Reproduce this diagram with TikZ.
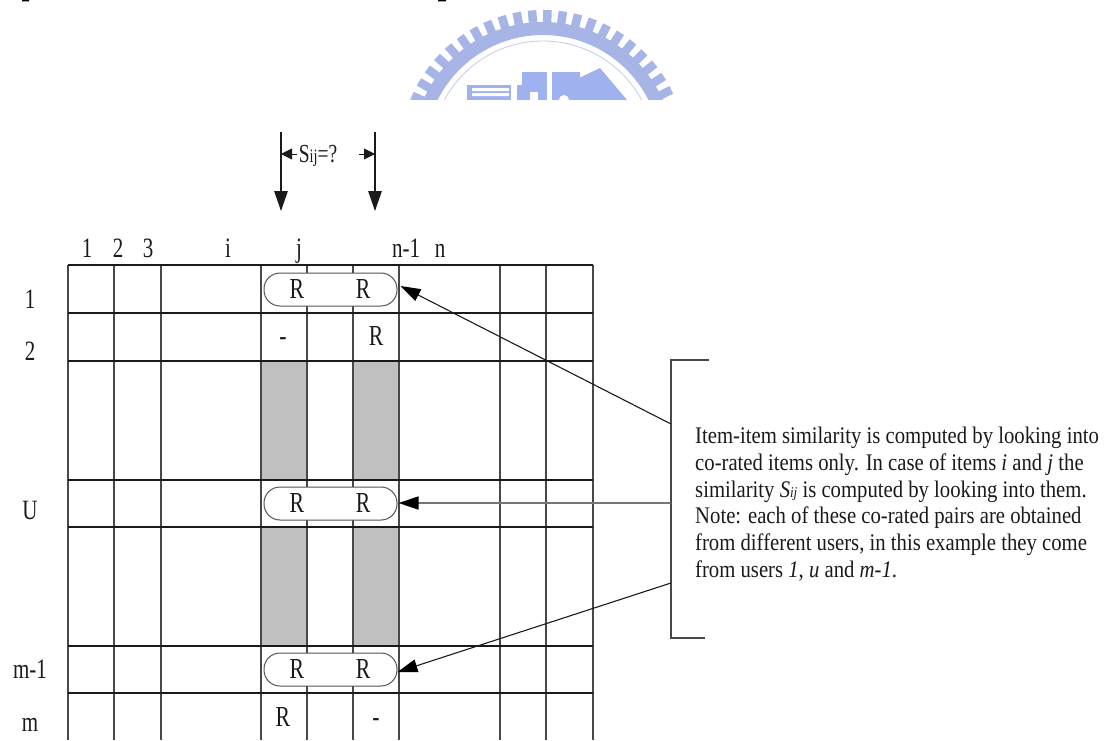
\documentclass[tikz,border=0pt]{standalone}
\usepackage{fontspec}
\setmainfont{Liberation Serif}
\newfontfamily\tallfont[FakeStretch=0.75]{Liberation Serif}
\newfontfamily\notefont[FakeStretch=0.87]{Liberation Serif}
\usetikzlibrary{arrows.meta}
\definecolor{logoblue}{HTML}{A6B4E6}
\definecolor{buildblue}{HTML}{9FB1EE}
\definecolor{cellgray}{HTML}{C0C0C0}
\definecolor{inkc}{HTML}{1A1A1A}
\tikzset{
 vline/.style={draw=inkc!80,line width=1.5pt},
 hline/.style={draw=inkc,line width=1.2pt},
 axislabel/.style={font=\tallfont\fontsize{28}{28}\selectfont,anchor=base,inner sep=0pt,text=inkc},
 celltext/.style={font=\tallfont\fontsize{29}{29}\selectfont,anchor=base,inner sep=0pt,text=inkc},
 pill/.style={draw=inkc!75,fill=white,line width=1pt,rounded corners=16pt,minimum width=133pt,minimum height=33pt,anchor=center,inner sep=0pt},
 bigarrow/.style={draw=inkc,line width=1.1pt,-{Triangle[length=20pt,width=13.5pt]}},
 midarrow/.style={draw=inkc,line width=1.1pt,-{Triangle[length=20pt,width=13pt,color=black]}},
 smallarrow/.style={draw=inkc,line width=0.9pt,-{Triangle[length=11pt,width=11pt]}},
 notetext/.style={font=\notefont\fontsize{23.8}{23.8}\selectfont,anchor=base west,inner sep=0pt,text=inkc},
}
\begin{document}
\begin{tikzpicture}[x=1pt,y=-1pt]
\useasboundingbox (0,0) rectangle (1106,740);
% cropped line of text above the logo
\fill[black] (22,0) rectangle (29,1.4) (438,0) rectangle (446,1.4);
% logo
\begin{scope}
\clip (400,0) rectangle (700,99);
\fill[logoblue,even odd rule] (543,153) circle (131) (543,153) circle (118);
\foreach \a in {20,26.2,...,161}{
  \draw[logoblue,line width=8.5pt] (543,153)++(-\a:125) -- ++(-\a:18);
}
\draw[logoblue!70,line width=0.8pt] (543,153) circle (112);
\fill[buildblue] (467,85) rectangle (511,100);
\fill[white] (472,88) rectangle (509,91) (472,93) rectangle (509,96);
\fill[buildblue] (517,85) rectangle (522,100);
\fill[buildblue] (522,72) rectangle (547,100);
\fill[buildblue] (552,72) rectangle (580,100);
\fill[buildblue] (575,100) -- (575,80) -- (600,68) -- (627,100) -- cycle;
\fill[white] (564,100) circle (5);
\fill[white] (530,92) rectangle (538,100);
\end{scope}
% gray cells
\fill[cellgray] (261,361) rectangle (307,480) (353,361) rectangle (399,480)
  (261,527) rectangle (307,646) (353,527) rectangle (399,646);
% grid
\foreach \x in {68,114,161,261,307,353,399,500,546,593}
  \draw[vline] (\x,265) -- (\x,740);
\foreach \y in {265,313,361,480,527,646,693}
  \draw[hline] (68,\y) -- (593,\y);
% pills
\node[pill] (p1) at (330.5,289.5) {};
\node[pill] (p2) at (330.5,503.5) {};
\node[pill] (p3) at (330.5,669.5) {};
% cell text
\foreach \n/\x/\y/\t in {a/297/298/R,b/363/298/R,c/376/345/R,e/297/512/R,f/363/512/R,g/297/678/R,h/363/678/R,k/283/726/R}
  \node[celltext] (c\n) at (\x,\y) {\t};
\node[celltext] (d1) at (283,345) {-};
\node[celltext] (d2) at (376,726) {-};
% axis labels
\foreach \n/\x/\t in {1/87/1,2/118/2,3/148/3,4/228/i,5/299/j,6/406/n-1,7/440/n}
  \node[axislabel] (t\n) at (\x,257) {\t};
\foreach \n/\y/\t in {1/308/1,2/360/2,3/519/U,4/678/m-1,5/731/m}
  \node[axislabel] (l\n) at (30,\y) {\t};
% top arrows
\coordinate (s1) at (281,132); \coordinate (e1) at (281,211);
\coordinate (s2) at (375,132); \coordinate (e2) at (375,211);
\draw[bigarrow] (s1) -- (e1);
\draw[bigarrow] (s2) -- (e2);
\node[font=\tallfont\fontsize{26}{26}\selectfont,anchor=base,inner sep=0pt,text=inkc] (sij) at (318,162) {S{\fontsize{19}{19}\selectfont ij}=?};
\coordinate (a1) at (297,154);
\draw[smallarrow] (a1) -- (s1 |- a1);
\coordinate (a3) at (359,154);
\draw[smallarrow] (a3) -- (s2 |- a3);
% bracket
\coordinate (bt) at (709,360); \coordinate (tc) at (671,360); \coordinate (bc) at (671,638); \coordinate (bb) at (705,638);
\draw[draw=inkc!80,line width=1.2pt] (bt) -- (tc) -- (bc) -- (bb);
\coordinate (b1) at (671,424); \coordinate (b2) at (671,503); \coordinate (b3) at (671,583);
\draw[midarrow] (b1) -- ([shift={(3,-3.5)}]p1.east);
\draw[midarrow,draw=inkc!60,line width=1.4pt] (b2) -- ([shift={(1,-0.5)}]p2.east);
\draw[midarrow] (b3) -- ([shift={(0,2.5)}]p3.east);
% note
\node[notetext] (n1) at (695,443) {Item-item similarity is computed by looking into};
\node[notetext] (n2) at (695,470) {co-rated items only. In case of items \textit{i} and \textit{j} the};
\node[notetext] (n3) at (695,497) {similarity \textit{S{\fontsize{15}{15}\selectfont ij}} is computed by looking into them.};
\node[notetext] (n4) at (695,523) {Note: each of these co-rated pairs are obtained};
\node[notetext] (n5) at (695,550) {from different users, in this example they come};
\node[notetext] (n6) at (695,577) {from users \textit{1}, \textit{u} and \textit{m-1}.};
\end{tikzpicture}
\end{document}
